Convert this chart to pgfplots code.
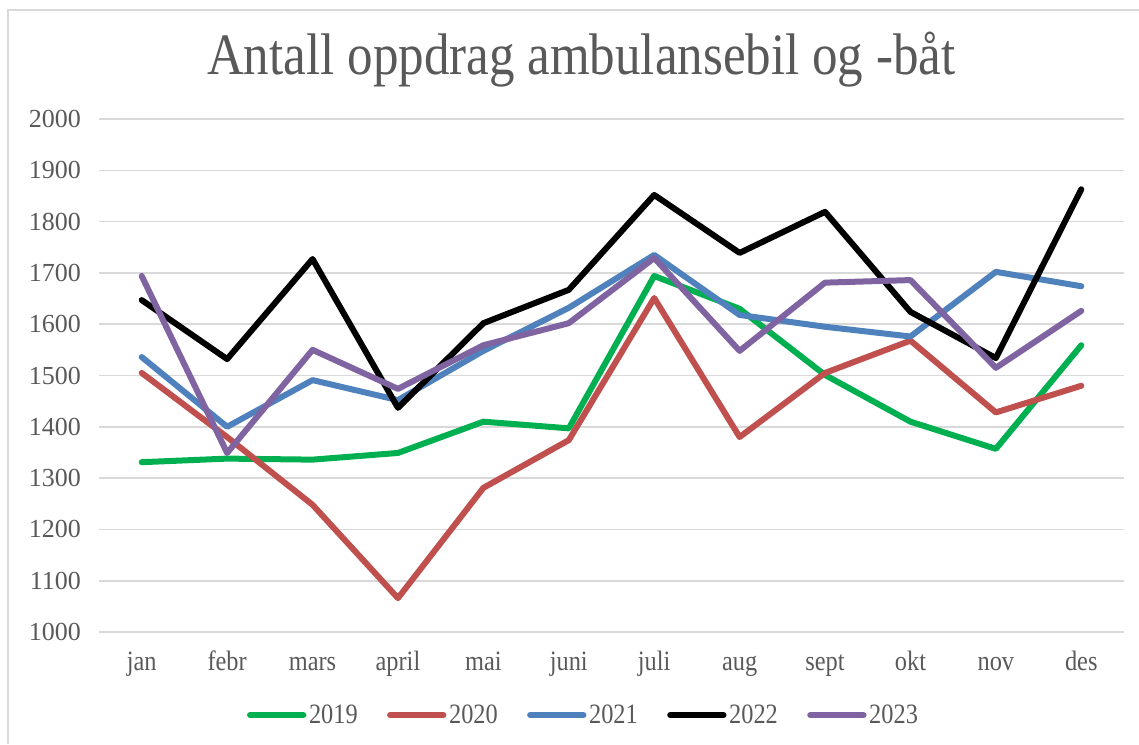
\documentclass[border=0pt]{standalone}
\usepackage{fontspec}
\setmainfont{Liberation Serif}
\newfontfamily\condfont{Liberation Serif}[FakeStretch=0.87]
\usepackage{pgfplots}
\pgfplotsset{compat=1.18}
\definecolor{c19}{RGB}{0,176,80}
\definecolor{c20}{RGB}{192,80,77}
\definecolor{c21}{RGB}{79,129,189}
\definecolor{c22}{RGB}{0,0,0}
\definecolor{c23}{RGB}{128,100,162}
\definecolor{txtgrey}{RGB}{89,89,89}
\definecolor{gridgrey}{RGB}{217,217,217}

\begin{document}
\begin{tikzpicture}
\useasboundingbox (0,0) rectangle (854.25pt,558pt);
% chart frame (only left and top edges are visible)
\draw[gridgrey, line width=1.5pt] (6pt,0pt) -- (6pt,550.5pt) -- (860pt,550.5pt);
\node[txtgrey, font=\condfont\fontsize{44}{48}\selectfont] at (436pt,513pt) {Antall oppdrag ambulansebil og -båt};
\begin{axis}[
    at={(74.25pt,84pt)}, anchor=south west,
    scale only axis,
    width=768.75pt, height=384.75pt,
    xmin=-0.5, xmax=11.5,
    ymin=1000, ymax=2000,
    xtick={0,...,11},
    xticklabels={jan,febr,mars,april,mai,juni,juli,aug,sept,okt,nov,des},
    ytick={1000,1100,...,2000},
    /pgf/number format/1000 sep={},
    /pgf/number format/assume math mode=true,
    axis line style={draw=none},
    major tick length=0pt,
    ymajorgrids,
    grid style={gridgrey, line width=1.2pt},
    yticklabel style={font=\fontsize{19.5}{22}\selectfont, text=txtgrey, xshift=-10pt},
    xticklabel style={font=\condfont\fontsize{21}{24}\selectfont, text=txtgrey, anchor=base, yshift=-28.5pt},
    legend columns=5,
    legend style={at={(0.473,-0.162)}, anchor=center, draw=none, fill=none,
        font=\condfont\fontsize{21}{24}\selectfont, text=txtgrey,
        /tikz/every even column/.append style={column sep=20pt}},
    legend image code/.code={\draw[#1, line cap=round] (0pt,0pt) -- (40pt,0pt);},
    every axis plot/.append style={line width=4.5pt, line join=round, line cap=round},
]
\addplot[c19] coordinates {(0,1331) (1,1338) (2,1336) (3,1349) (4,1410) (5,1397) (6,1694) (7,1630) (8,1501) (9,1410) (10,1357) (11,1559)};
\addplot[c20] coordinates {(0,1505) (1,1380) (2,1248) (3,1066) (4,1281) (5,1374) (6,1651) (7,1380) (8,1505) (9,1568) (10,1428) (11,1480)};
\addplot[c21] coordinates {(0,1536) (1,1400) (2,1491) (3,1452) (4,1548) (5,1632) (6,1735) (7,1618) (8,1595) (9,1576) (10,1702) (11,1674)};
\addplot[c22] coordinates {(0,1647) (1,1532) (2,1727) (3,1437) (4,1602) (5,1667) (6,1852) (7,1739) (8,1819) (9,1624) (10,1534) (11,1863)};
\addplot[c23] coordinates {(0,1694) (1,1349) (2,1550) (3,1474) (4,1559) (5,1602) (6,1729) (7,1548) (8,1681) (9,1686) (10,1515) (11,1626)};
\legend{2019,2020,2021,2022,2023}
\end{axis}
\end{tikzpicture}
\end{document}
